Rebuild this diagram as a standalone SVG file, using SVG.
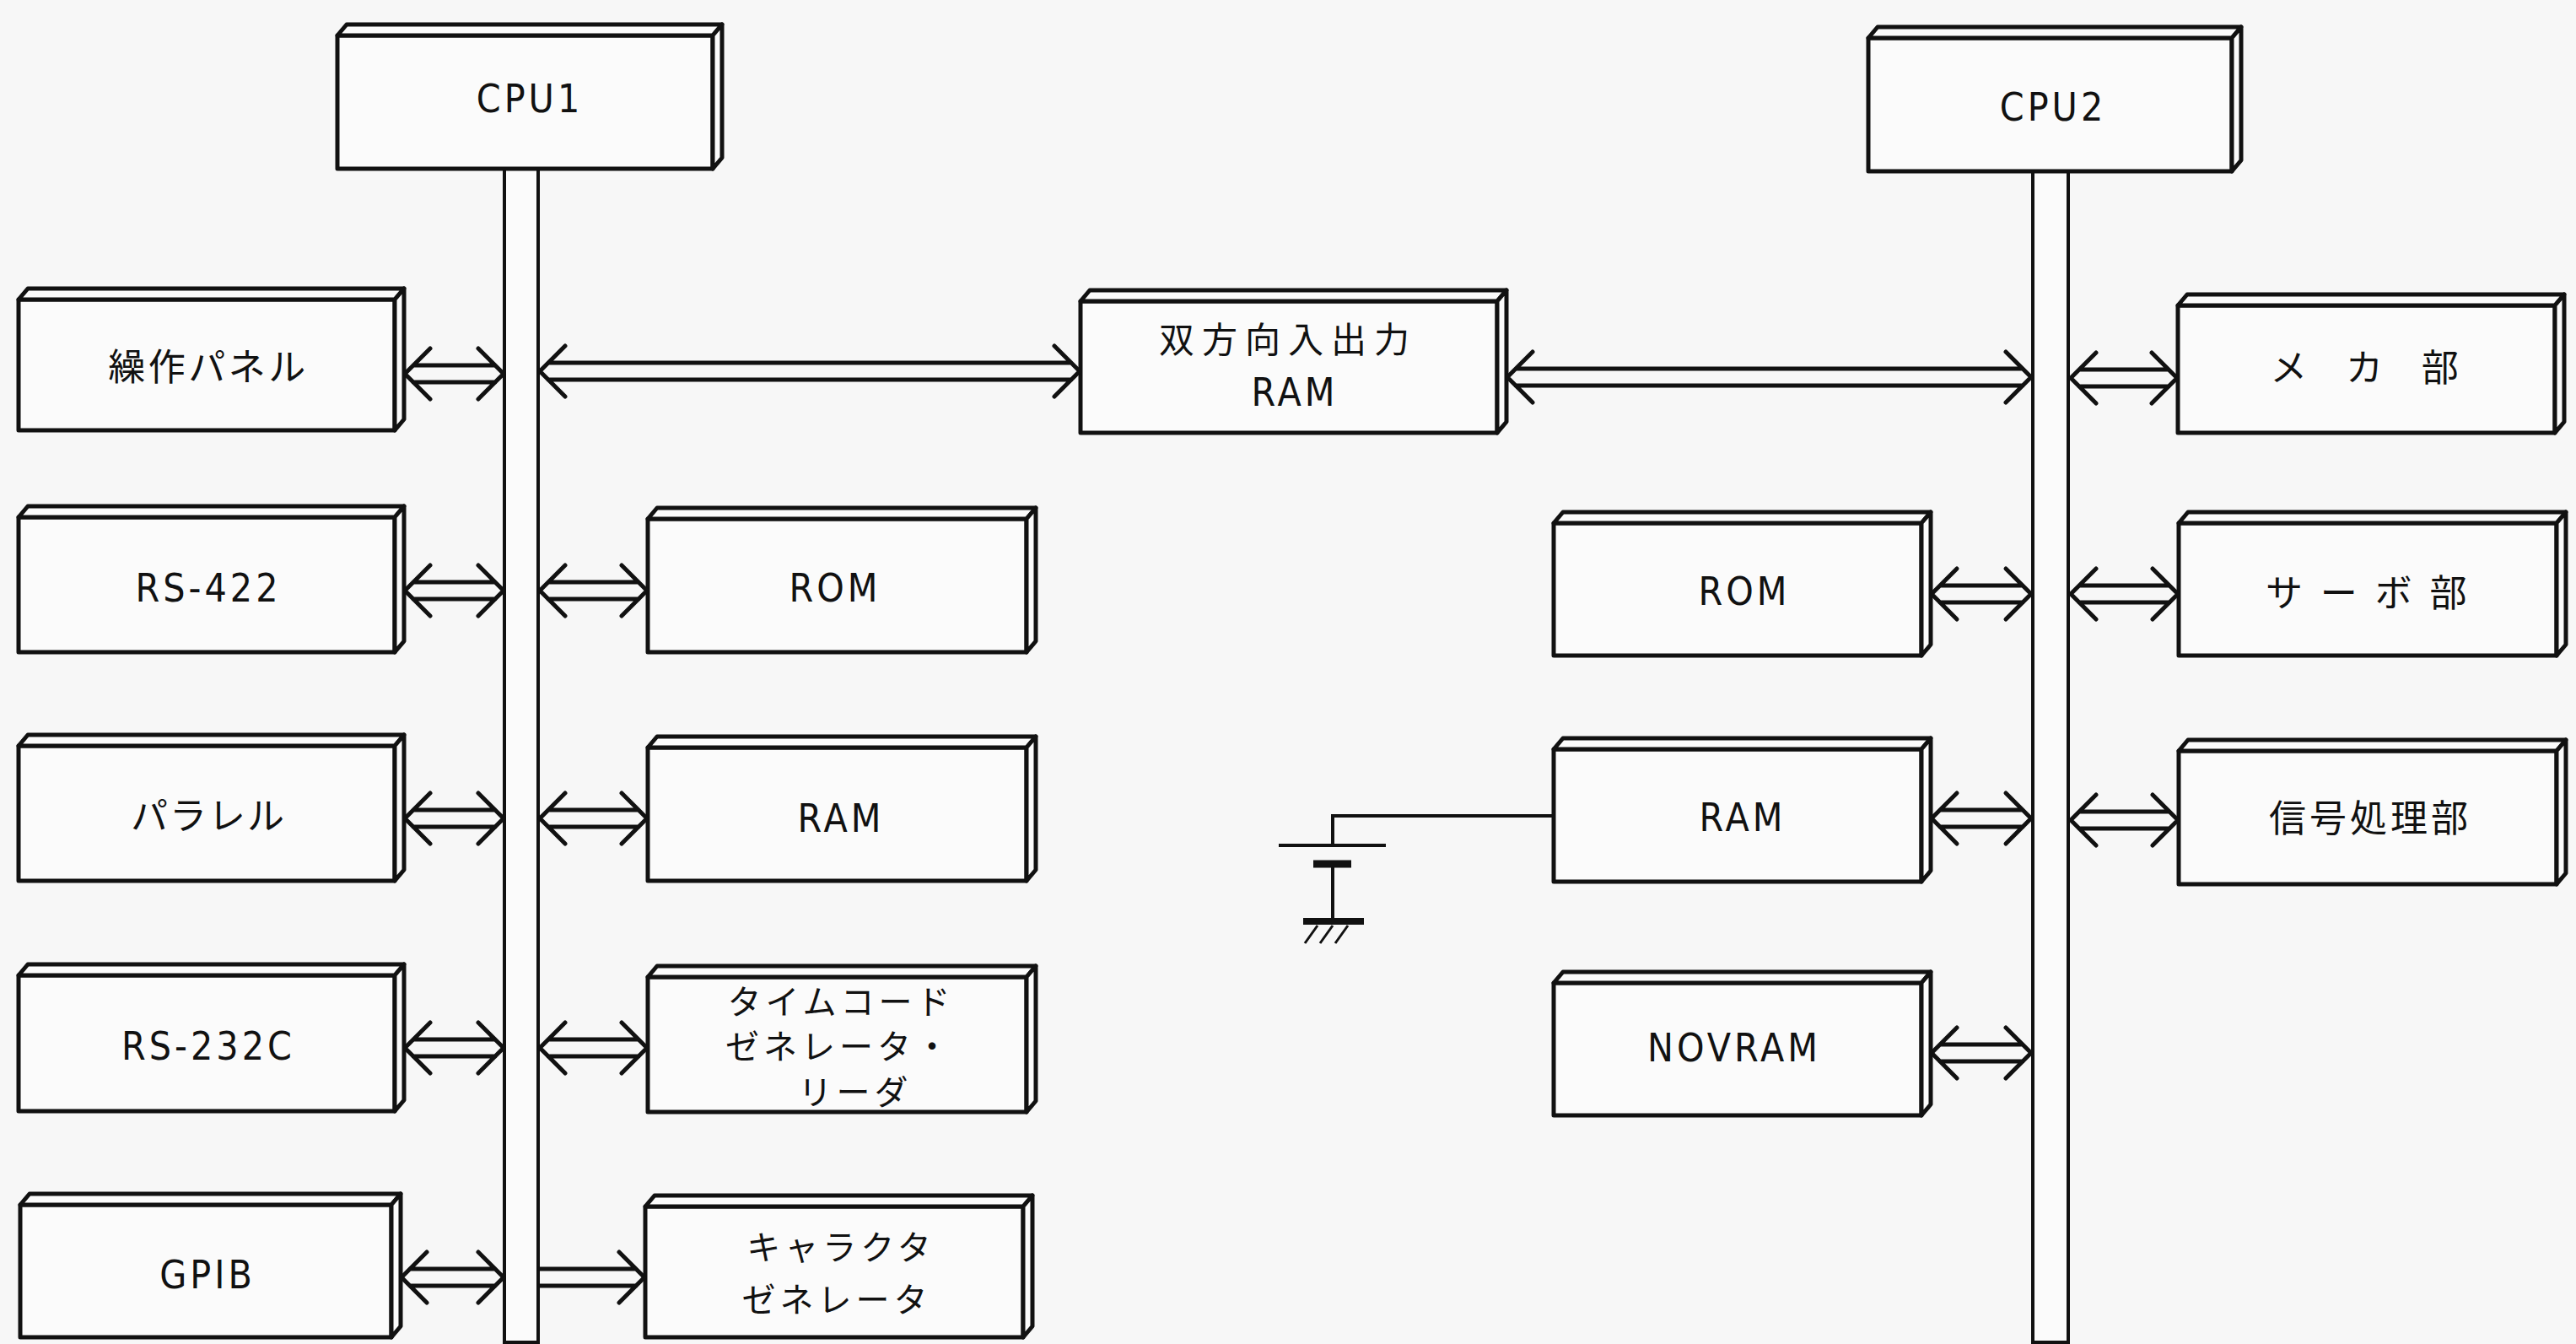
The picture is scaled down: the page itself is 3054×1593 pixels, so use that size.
<svg xmlns="http://www.w3.org/2000/svg" width="3054" height="1593" viewBox="0 0 3054 1593">
<style>
.bg{fill:#f7f7f7}
.box rect,.box path{fill:#fbfbfb;stroke:#111;stroke-width:5;stroke-linejoin:round}
.bus{fill:#fbfbfb;stroke:#111;stroke-width:4}
.arr path{fill:none;stroke:#111;stroke-width:5;stroke-linecap:round;stroke-linejoin:round}
.wire{fill:none;stroke:#111;stroke-width:4}
.lat{font-family:'DejaVu Sans Condensed','Liberation Sans',sans-serif;font-size:46px;letter-spacing:4px;text-anchor:middle;fill:#111}
.jp{font-family:'Noto Sans CJK JP',sans-serif;font-size:44px;text-anchor:middle;fill:#111}
</style>
<rect class="bg" x="0" y="0" width="3054" height="1593"/>
<g id="buses">
<rect id="bus1" class="bus" x="598" y="200" width="40" height="1391"/>
<rect id="bus2" class="bus" x="2410" y="203" width="42" height="1388"/>
</g>
<g id="cpu1" class="box"><rect x="400" y="42" width="445" height="158"/><path d="M400 42L411 29L856 29L845 42Z"/><path d="M845 42L856 29L856 187L845 200Z"/><text class="lat" x="628" y="133">CPU1</text></g>
<g id="cpu2" class="box"><rect x="2215" y="45" width="431" height="158"/><path d="M2215 45L2226 32L2657 32L2646 45Z"/><path d="M2646 45L2657 32L2657 190L2646 203Z"/><text class="lat" x="2434" y="143">CPU2</text></g>
<g id="panel" class="box"><rect x="22" y="355" width="446" height="155"/><path d="M22 355L33 342L479 342L468 355Z"/><path d="M468 355L479 342L479 497L468 510Z"/><text class="jp" x="247" y="451" style="letter-spacing:3.5px">繰作パネル</text></g>
<g id="rs422" class="box"><rect x="22" y="613" width="446" height="160"/><path d="M22 613L33 600L479 600L468 613Z"/><path d="M468 613L479 600L479 760L468 773Z"/><text class="lat" x="247" y="713">RS-422</text></g>
<g id="parallel" class="box"><rect x="22" y="884" width="446" height="160"/><path d="M22 884L33 871L479 871L468 884Z"/><path d="M468 884L479 871L479 1031L468 1044Z"/><text class="jp" x="247" y="983" style="letter-spacing:2px">パラレル</text></g>
<g id="rs232c" class="box"><rect x="22" y="1156" width="446" height="161"/><path d="M22 1156L33 1143L479 1143L468 1156Z"/><path d="M468 1156L479 1143L479 1304L468 1317Z"/><text class="lat" x="247" y="1256">RS-232C</text></g>
<g id="gpib" class="box"><rect x="24" y="1428" width="440" height="157"/><path d="M24 1428L35 1415L475 1415L464 1428Z"/><path d="M464 1428L475 1415L475 1572L464 1585Z"/><text class="lat" x="246" y="1527">GPIB</text></g>
<g id="rom1" class="box"><rect x="768" y="615" width="449" height="158"/><path d="M768 615L779 602L1228 602L1217 615Z"/><path d="M1217 615L1228 602L1228 760L1217 773Z"/><text class="lat" x="990" y="713">ROM</text></g>
<g id="ram1" class="box"><rect x="768" y="886" width="449" height="158"/><path d="M768 886L779 873L1228 873L1217 886Z"/><path d="M1217 886L1228 873L1228 1031L1217 1044Z"/><text class="lat" x="997" y="986">RAM</text></g>
<g id="timecode" class="box"><rect x="768" y="1158" width="449" height="160"/><path d="M768 1158L779 1145L1228 1145L1217 1158Z"/><path d="M1217 1158L1228 1145L1228 1305L1217 1318Z"/><text class="jp" style="font-size:40px;letter-spacing:5px"><tspan x="997" y="1202">タイムコード</tspan><tspan x="995" y="1255">ゼネレータ・</tspan><tspan x="1014" y="1309">リーダ</tspan></text></g>
<g id="chargen" class="box"><rect x="765" y="1430" width="448" height="155"/><path d="M765 1430L776 1417L1224 1417L1213 1430Z"/><path d="M1213 1430L1224 1417L1224 1572L1213 1585Z"/><text class="jp" style="font-size:40px;letter-spacing:5px"><tspan x="997" y="1493">キャラクタ</tspan><tspan x="992" y="1555">ゼネレータ</tspan></text></g>
<g id="dpram" class="box"><rect x="1281" y="357" width="494" height="156"/><path d="M1281 357L1292 344L1786 344L1775 357Z"/><path d="M1775 357L1786 344L1786 500L1775 513Z"/><text class="jp" x="1527" y="418" style="font-size:42px;letter-spacing:9px">双方向入出力</text><text class="lat" x="1535" y="481">RAM</text></g>
<g id="rom2" class="box"><rect x="1842" y="620" width="436" height="157"/><path d="M1842 620L1853 607L2289 607L2278 620Z"/><path d="M2278 620L2289 607L2289 764L2278 777Z"/><text class="lat" x="2068" y="717">ROM</text></g>
<g id="ram2" class="box"><rect x="1842" y="888" width="436" height="157"/><path d="M1842 888L1853 875L2289 875L2278 888Z"/><path d="M2278 888L2289 875L2289 1032L2278 1045Z"/><text class="lat" x="2066" y="985">RAM</text></g>
<g id="novram" class="box"><rect x="1842" y="1165" width="436" height="157"/><path d="M1842 1165L1853 1152L2289 1152L2278 1165Z"/><path d="M2278 1165L2289 1152L2289 1309L2278 1322Z"/><text class="lat" x="2056" y="1258">NOVRAM</text></g>
<g id="meka" class="box"><rect x="2582" y="362" width="447" height="151"/><path d="M2582 362L2593 349L3040 349L3029 362Z"/><path d="M3029 362L3040 349L3040 500L3029 513Z"/><text class="jp" x="2812" y="452" xml:space="preserve" style="letter-spacing:18px">メ カ 部</text></g>
<g id="servo" class="box"><rect x="2583" y="620" width="448" height="157"/><path d="M2583 620L2594 607L3042 607L3031 620Z"/><path d="M3031 620L3042 607L3042 764L3031 777Z"/><text class="jp" x="2808" y="719" xml:space="preserve" style="letter-spacing:5.5px">サ ー ボ 部</text></g>
<g id="signal" class="box"><rect x="2583" y="890" width="448" height="158"/><path d="M2583 890L2594 877L3042 877L3031 890Z"/><path d="M3031 890L3042 877L3042 1035L3031 1048Z"/><text class="jp" x="2810" y="986" style="letter-spacing:4px">信号処理部</text></g>
<g id="battery" class="wire">
<path d="M1842 967H1580V1002"/>
<path d="M1516 1002H1643"/>
<path d="M1557 1024H1602" style="stroke-width:9"/>
<path d="M1580 1024V1092"/>
<path d="M1545 1092H1617" style="stroke-width:8"/>
<path d="M1562 1097L1547 1118M1580 1097L1565 1118M1598 1097L1583 1118" style="stroke-width:3"/>
</g>
<g id="connectors" class="arr">
<path d="M490 433H587M490 453H587M510 413L480 443L510 473M567 413L597 443L567 473"/>
<path d="M650 430H1270M650 450H1270M670 410L640 440L670 470M1250 410L1280 440L1250 470"/>
<path d="M1797 437H2398M1797 457H2398M1817 417L1787 447L1817 477M2378 417L2408 447L2378 477"/>
<path d="M2465 438H2571M2465 458H2571M2485 418L2455 448L2485 478M2551 418L2581 448L2551 478"/>
<path d="M490 690H587M490 710H587M510 670L480 700L510 730M567 670L597 700L567 730"/>
<path d="M650 690H757M650 710H757M670 670L640 700L670 730M737 670L767 700L737 730"/>
<path d="M2300 694H2398M2300 714H2398M2320 674L2290 704L2320 734M2378 674L2408 704L2378 734"/>
<path d="M2465 694H2572M2465 714H2572M2485 674L2455 704L2485 734M2552 674L2582 704L2552 734"/>
<path d="M490 960H587M490 980H587M510 940L480 970L510 1000M567 940L597 970L567 1000"/>
<path d="M650 960H757M650 980H757M670 940L640 970L670 1000M737 940L767 970L737 1000"/>
<path d="M2300 960H2398M2300 980H2398M2320 940L2290 970L2320 1000M2378 940L2408 970L2378 1000"/>
<path d="M2465 962H2572M2465 982H2572M2485 942L2455 972L2485 1002M2552 942L2582 972L2552 1002"/>
<path d="M490 1232H587M490 1252H587M510 1212L480 1242L510 1272M567 1212L597 1242L567 1272"/>
<path d="M650 1232H757M650 1252H757M670 1212L640 1242L670 1272M737 1212L767 1242L737 1272"/>
<path d="M2300 1238H2398M2300 1258H2398M2320 1218L2290 1248L2320 1278M2378 1218L2408 1248L2378 1278"/>
<path d="M486 1504H587M486 1524H587M506 1484L476 1514L506 1544M567 1484L597 1514L567 1544"/>
<path d="M640 1504H754M640 1524H754M734 1484L764 1514L734 1544"/>
</g>
</svg>
